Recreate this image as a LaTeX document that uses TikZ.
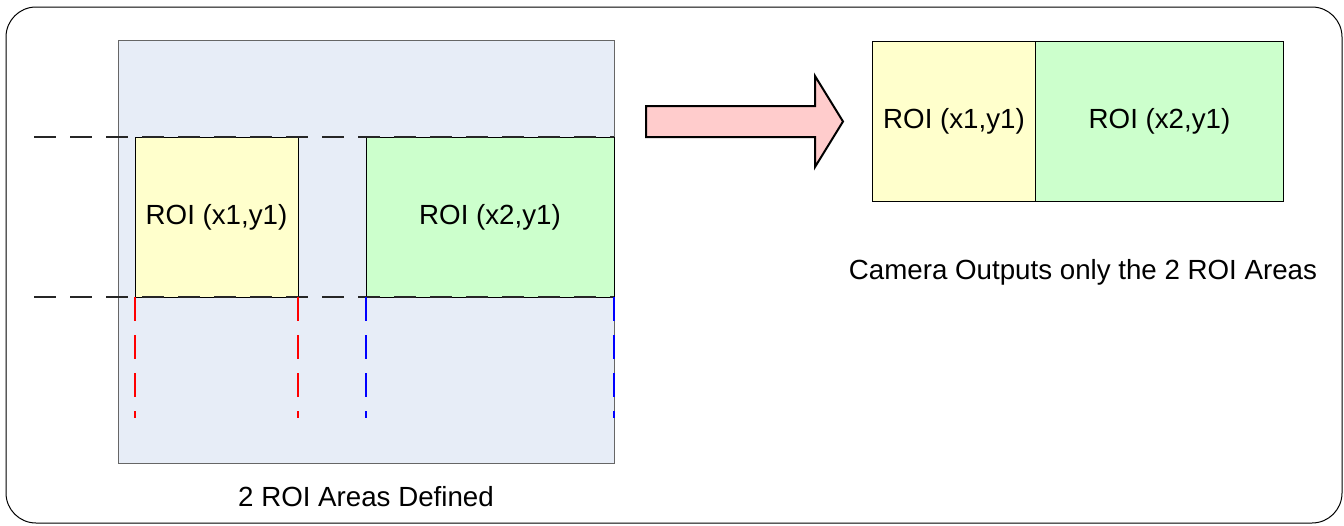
\documentclass[tikz,border=0pt]{standalone}
\usepackage{fontspec}
\setmainfont{Liberation Sans}
\usepackage{xcolor}
\usetikzlibrary{positioning}
\definecolor{sensorbg}{HTML}{E7EDF7}
\definecolor{roiyellow}{HTML}{FFFFCC}
\definecolor{roigreen}{HTML}{CCFFCC}
\definecolor{arrowpink}{HTML}{FFCCCC}

\begin{document}
\begin{tikzpicture}[
  x=0.5pt, y=-0.5pt,
  box/.style={draw, line width=0.5pt, outer sep=0pt, inner sep=0pt, font=\fontsize{13.85}{16}\selectfont},
  sensor/.style={box, draw=black!60, fill=sensorbg, minimum width=248pt, minimum height=211.5pt},
  roione/.style={box, fill=roiyellow, minimum width=81.5pt, minimum height=80pt},
  roitwo/.style={box, fill=roigreen, minimum width=124pt, minimum height=80pt},
  rowline/.style={draw=black!85, line width=1pt, dash pattern=on 11pt off 7pt},
  colone/.style={draw=red, line width=0.75pt, dash pattern=on 12pt off 7pt},
  coltwo/.style={draw=blue, line width=0.75pt, dash pattern=on 12pt off 7pt},
  caption/.style={font=\fontsize{13.85}{16}\selectfont, inner sep=0pt}
]
  \useasboundingbox (0,0) rectangle (1344,525);
  \draw[line width=0.5pt, rounded corners=15pt] (6,7) rectangle (1342,523);
  \node[sensor] (frame) at (366,251.5) {};
  \node[roione] (roiA) at (216.5,217) {ROI (x1,y1)};
  \node[roitwo] (roiB) at (490,217) {ROI (x2,y1)};
  \coordinate (rowtop) at (34,137);
  \coordinate (rowbot) at (34,297);
  \coordinate (endA1) at (roiA.south west |- 0,418);
  \coordinate (endA2) at (roiA.south east |- 0,418);
  \coordinate (endB1) at (roiB.south west |- 0,418);
  \coordinate (endB2) at (roiB.south east |- 0,418);
  \draw[rowline] (rowtop) -- (rowtop -| frame.east);
  \draw[rowline] (rowbot) -- (rowbot -| frame.east);
  \draw[colone] (roiA.south west) -- (endA1);
  \draw[colone] (roiA.south east) -- (endA2);
  \draw[coltwo] (roiB.south west) -- (endB1);
  \draw[coltwo] (roiB.south east) -- (endB2);
  \node[caption] (capL) at (366,497) {2 ROI Areas Defined};
  \draw[line width=1pt, fill=arrowpink, line join=miter]
    (646,106) -- (815,106) -- (815,76) -- (843,121.5) -- (815,167) -- (815,137) -- (646,137) -- cycle;
  \node[roione] (outA) at (954,121) {ROI (x1,y1)};
  \node[roitwo, right=0pt of outA] (outB) {ROI (x2,y1)};
  \node[caption] (capR) at (1083,272) {Camera Outputs only the 2 ROI Areas};
\end{tikzpicture}
\end{document}
